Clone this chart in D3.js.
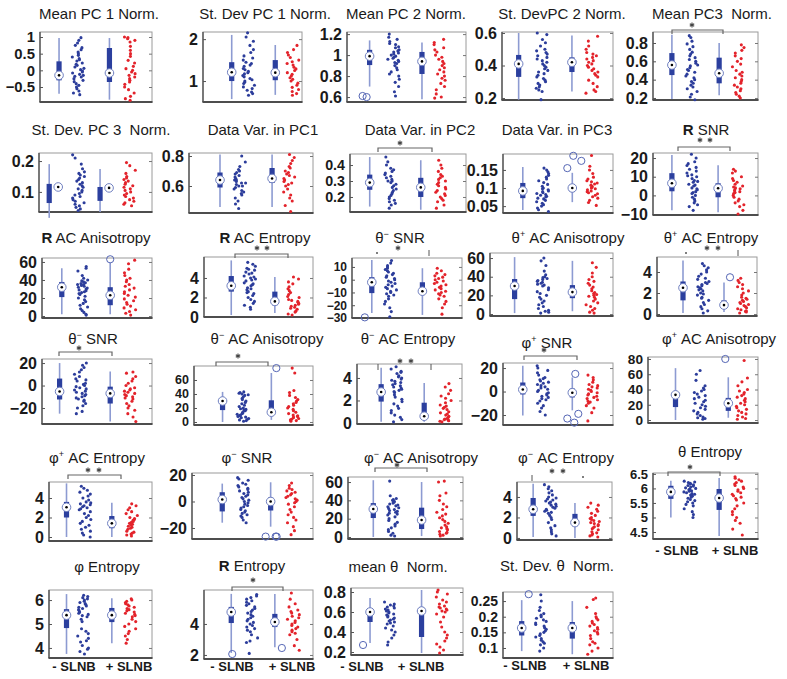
<!DOCTYPE html>
<html><head><meta charset="utf-8">
<script src="https://cdn.jsdelivr.net/npm/d3@7"></script>
<style>
body{margin:0;background:#fff}
svg{display:block}
text{font-family:"Liberation Sans",Arial,sans-serif;white-space:pre}
</style>
</head><body>
<svg id="c" width="787" height="679"></svg>
<script>
// ---------------- DATA ----------------
const titles = [
 "Mean PC 1 Norm.","St. Dev PC 1 Norm.","Mean PC 2 Norm.","St. DevPC 2 Norm.","Mean PC3  Norm.",
 "St. Dev. PC 3  Norm.","Data Var. in PC1","Data Var. in PC2","Data Var. in PC3","*R* SNR",
 "*R* AC Anisotropy","*R* AC Entropy","θ^− SNR","θ^+ AC Anisotropy","θ^+ AC Entropy",
 "θ^− SNR","θ^− AC Anisotropy","θ^− AC Entropy","φ^+ SNR","φ^+ AC Anisotropy",
 "φ^+ AC Entropy","φ^− SNR","φ^− AC Anisotropy","φ^− AC Entropy","θ Entropy",
 "φ Entropy","*R* Entropy","mean θ  Norm.","St. Dev. θ  Norm."
];
const groupLabels = ["- SLNB", "+ SLNB"];

const yTicks = [
 [-0.5,0,0.5,1],[1,2],[0.6,0.8,1,1.2],[0.2,0.4,0.6],[0.2,0.4,0.6,0.8],
 [0.1,0.2],[0.6,0.8],[0.2,0.3,0.4],[0.05,0.1,0.15],[-10,0,10,20],
 [0,20,40,60],[0,2,4],[-30,-20,-10,0,10],[0,20,40,60],[0,2,4],
 [-20,0,20],[0,20,40,60],[0,2,4],[-20,0,20],[0,20,40,60,80],
 [0,2,4],[-20,0,20],[0,20,40,60],[0,2,4],[4.5,5,5.5,6,6.5],
 [4,5,6],[2,4],[0.2,0.4,0.6,0.8],[0.1,0.15,0.2,0.25]
];

// box statistics: [lower whisker, q1, median, q3, upper whisker]
const statsNeg = [
 [-0.7,-0.3,-0.15,0.27,0.97],[0.57,1.0,1.21,1.45,2.1],[0.7,0.905,0.99,1.05,1.14],[0.19,0.33,0.41,0.465,0.6],[0.19,0.45,0.56,0.69,0.89],
 [0.016,0.064,0.116,0.126,0.19],[0.46,0.59,0.64,0.69,0.81],[0.14,0.245,0.29,0.34,0.45],[0.039,0.072,0.092,0.114,0.158],[-8,2.2,6.5,11.9,21.6],
 [2,21,32,37.8,53],[0.2,2.6,3.2,4.2,5.8],[-26,-10.5,-2,2,15.5],[1,16,30,37.5,61],[0.1,1.3,2.5,3.1,5.1],
 [-25,-12.4,-5.3,6.2,20],[0,17,30,34,43],[0.1,1.9,2.75,3.45,4.9],[-20.4,-2.5,1.7,7.7,22],[0,17,33,37,68],
 [0,2.0,3.05,3.6,5.5],[-16,-7.5,1.5,7,13.5],[0,20.7,30.5,37,62],[0.1,2.15,2.8,3.9,5.3],[5.0,5.64,5.88,6.09,6.26],
 [3.75,4.83,5.37,5.62,6.25],[2.13,4.06,4.77,5.1,5.94],[0.29,0.5,0.6,0.64,0.74],[0.09,0.14,0.164,0.186,0.253]
];
const statsPos = [
 [-0.88,-0.35,-0.08,0.67,0.97],[0.67,1.02,1.2,1.5,1.86],[0.58,0.82,0.94,1.03,1.12],[0.24,0.36,0.42,0.45,0.585],[0.23,0.36,0.47,0.64,0.8],
 [0.035,0.071,0.113,0.116,0.174],[0.46,0.62,0.65,0.72,0.81],[0.12,0.2,0.26,0.32,0.43],[0.061,0.089,0.1,0.111,0.142],[-9,-1,3.8,6.5,16.2],
 [2,12,23,32,59],[0.4,1.2,1.6,2.6,4.1],[-27.6,-12,-9,-2,9],[3,17,23.5,31,57],[0.2,0.6,0.85,1.3,3.0],
 [-32,-16,-7,-1,12.4],[3,10,14,31,70],[0.1,0.45,0.6,1.8,3.55],[-16,-5,-1,2.5,12],[3,12,22,29,56],
 [0,0.9,1.4,2.15,3.5],[-19,-6.8,0,3,14.5],[1,8.7,18.5,32,60],[0,1.15,1.5,2.35,3.4],[4.36,5.26,5.67,5.98,6.36],
 [4.2,5.08,5.37,5.67,6.08],[2.5,3.8,4.13,4.65,5.94],[0.19,0.35,0.61,0.65,0.82],[0.08,0.13,0.164,0.183,0.25]
];
const outNeg = [[],[],[0.61,0.6],[],[],[],[],[],[],[],[],[],[-29.5],[],[],[],[],[],[],[],[],[],[],[],[],[],[2.06],[0.27],[0.272]];
const outPos = [[],[],[],[],[],[],[],[],[0.155,0.189,0.175],[],[63],[],[],[],[3.5],[],[77],[],[15,-23,-19,-26.5],[80],[],[-26.5,-26.5,-26.5],[],[],[],[],[2.45],[],[]];

const dotsNeg = [
 [0.98,0.9,0.82,0.75,0.68,0.62,0.55,0.5,0.45,0.4,0.35,0.32,0.28,0.22,0.18,0.15,0.1,0.06,0.02,-0.02,-0.05,-0.08,-0.12,-0.15,-0.18,-0.2,-0.25,-0.3,-0.34,-0.4,-0.45,-0.5,-0.55,-0.62,-0.68,-0.73],
 [2.15,2.05,1.95,1.85,1.75,1.68,1.6,1.55,1.5,1.45,1.42,1.38,1.35,1.3,1.27,1.23,1.2,1.17,1.13,1.1,1.06,1.03,1.0,0.97,0.94,0.9,0.86,0.82,0.78,0.74,0.7,0.66],
 [1.2,1.17,1.15,1.13,1.11,1.1,1.08,1.07,1.05,1.04,1.03,1.02,1.01,1.0,0.99,0.98,0.97,0.96,0.95,0.94,0.93,0.92,0.9,0.88,0.86,0.84,0.82,0.8,0.77,0.74,0.7,0.65,0.61],
 [0.6,0.59,0.56,0.54,0.52,0.5,0.49,0.48,0.47,0.46,0.45,0.44,0.43,0.42,0.41,0.4,0.39,0.38,0.37,0.36,0.35,0.34,0.33,0.32,0.31,0.3,0.29,0.28,0.27,0.26,0.25,0.24,0.19],
 [0.88,0.86,0.82,0.79,0.76,0.73,0.7,0.68,0.66,0.64,0.62,0.6,0.58,0.56,0.55,0.53,0.51,0.5,0.48,0.46,0.44,0.42,0.4,0.38,0.36,0.34,0.32,0.3,0.27,0.24,0.21,0.18],
 [0.22,0.21,0.19,0.175,0.165,0.16,0.155,0.15,0.145,0.14,0.135,0.13,0.125,0.12,0.115,0.11,0.105,0.1,0.095,0.09,0.085,0.08,0.075,0.07,0.065,0.06,0.055,0.05,0.045,0.04],
 [0.8,0.76,0.73,0.71,0.7,0.69,0.68,0.67,0.66,0.65,0.64,0.64,0.63,0.62,0.62,0.61,0.6,0.6,0.59,0.58,0.57,0.56,0.55,0.54,0.52,0.5,0.48,0.45],
 [0.45,0.42,0.4,0.38,0.37,0.36,0.35,0.34,0.33,0.32,0.31,0.3,0.3,0.29,0.28,0.27,0.26,0.25,0.24,0.23,0.22,0.21,0.2,0.19,0.18,0.17,0.16,0.15,0.13],
 [0.155,0.15,0.145,0.14,0.135,0.13,0.125,0.12,0.115,0.11,0.105,0.1,0.098,0.095,0.092,0.09,0.087,0.085,0.082,0.08,0.077,0.075,0.072,0.07,0.066,0.062,0.058,0.054,0.05,0.045,0.04,0.035],
 [22,20,18,17,16,15,14,13,12,11,10.5,10,9,8,7.5,7,6,5.5,5,4,3.5,3,2,1.5,1,0,-1,-2,-3,-4,-5,-6,-8],
 [55,53,50,45,42,40,39,38,37,36,35,35,34,33,32,31,30,29,28,27,26,25,24,22,20,18,16,14,12,10,8,6,4,2,1],
 [5.6,5.4,5.2,5.0,4.9,4.8,4.6,4.5,4.4,4.2,4.1,4.0,3.9,3.8,3.7,3.5,3.4,3.3,3.2,3.0,2.9,2.8,2.6,2.5,2.4,2.2,2.0,1.8,1.6,1.4,1.2,1.0,0.8],
 [15,13,11,10,9,8,7,6,5,4,3,2,1,0,-1,-2,-3,-4,-5,-6,-7,-8,-9,-10,-11,-12,-13,-15,-17,-19,-22,-25,-29],
 [60,57,52,46,42,40,39,38,37,36,35,34,33,32,31,30,28,26,24,22,20,18,16,14,12,10,8,6,4,3,2,1],
 [4.8,4.6,4.4,4.2,4.0,3.8,3.6,3.4,3.3,3.1,3.0,2.9,2.8,2.7,2.6,2.5,2.4,2.3,2.2,2.0,1.9,1.8,1.6,1.5,1.3,1.1,0.9,0.7,0.5,0.3,0.1],
 [20,18,16,14,12,10,8,6,5,4,2,1,0,-1,-2,-3,-4,-5,-6,-7,-8,-9,-10,-11,-12,-13,-14,-16,-18,-20,-23,-25],
 [43,42,41,40,39,38,36,34,32,30,28,26,24,22,20,19,18,17,16,14,13,12,11,10,9,8,7,6,5,4,3,2,1],
 [5.0,4.8,4.6,4.5,4.4,4.2,4.1,4.0,3.9,3.8,3.7,3.6,3.5,3.4,3.3,3.2,3.1,3.0,2.9,2.8,2.7,2.5,2.3,2.1,1.9,1.7,1.5,1.3,1.1,0.9,0.7,0.5,0.3,0.1],
 [22,20,18,16,14,12,11,10,9,8,7,6,5,4,3,2,1,0,-1,-2,-3,-4,-5,-6,-7,-8,-10,-12,-14,-17,-20],
 [65,60,52,45,42,40,38,36,34,32,30,28,26,24,22,20,18,16,14,12,10,8,6,4,3,2,1],
 [5.2,5.0,4.8,4.6,4.4,4.2,4.0,3.8,3.6,3.5,3.4,3.3,3.2,3.1,3.0,2.9,2.8,2.6,2.4,2.2,2.0,1.8,1.6,1.4,1.2,1.0,0.8,0.6,0.4,0.2,0.0],
 [18,17,16,14,13,12,11,10,9,8,7,6,5,4,3,2,1,0,-1,-2,-3,-4,-5,-6,-7,-8,-9,-10,-11,-12,-14,-16],
 [61,45,42,41,40,39,38,37,36,35,34,33,32,31,30,29,28,27,26,25,24,22,20,18,16,14,12,10,8,6,4,2,1],
 [5.2,5.0,4.8,4.6,4.4,4.2,4.0,3.9,3.8,3.7,3.6,3.5,3.4,3.3,3.2,3.1,3.0,2.9,2.8,2.7,2.6,2.5,2.4,2.2,2.0,1.8,1.5,1.2,1.0,0.8,0.6,0.4,0.2],
 [6.25,6.22,6.2,6.18,6.15,6.12,6.1,6.08,6.05,6.02,6.0,5.98,5.95,5.92,5.9,5.88,5.85,5.82,5.8,5.77,5.74,5.7,5.66,5.62,5.58,5.54,5.5,5.45,5.4,5.3,5.2,5.1,5.0],
 [6.2,6.15,6.1,6.05,6.0,5.95,5.9,5.85,5.8,5.75,5.7,5.65,5.6,5.55,5.5,5.45,5.4,5.35,5.3,5.2,5.1,4.8,4.7,4.6,4.5,4.4,4.3,4.25,4.1,4.0,3.95,3.85,3.75],
 [5.9,5.8,5.7,5.6,5.5,5.4,5.3,5.2,5.1,5.0,4.9,4.8,4.7,4.6,4.5,4.4,4.3,4.2,4.1,4.0,3.9,3.8,3.7,3.6,3.5,3.3,3.1,2.9,2.8,2.1],
 [0.7,0.68,0.67,0.66,0.65,0.64,0.63,0.62,0.61,0.6,0.59,0.58,0.57,0.56,0.55,0.54,0.53,0.52,0.51,0.5,0.49,0.48,0.46,0.44,0.42,0.4,0.37,0.34,0.3,0.27],
 [0.27,0.25,0.23,0.22,0.21,0.205,0.2,0.195,0.19,0.185,0.18,0.175,0.17,0.165,0.16,0.155,0.15,0.145,0.14,0.135,0.13,0.125,0.12,0.115,0.11,0.1,0.09]
];
const dotsPos = [
 [1.0,0.98,0.95,0.9,0.85,0.72,0.6,0.5,0.42,0.3,0.22,0.12,0.05,0.0,-0.05,-0.1,-0.15,-0.2,-0.25,-0.3,-0.35,-0.42,-0.5,-0.58,-0.68,-0.78,-0.85,-0.9],
 [1.85,1.75,1.68,1.62,1.56,1.5,1.46,1.42,1.38,1.33,1.29,1.25,1.2,1.16,1.12,1.08,1.04,1.0,0.95,0.9,0.85,0.8,0.75,0.7,0.66],
 [1.15,1.12,1.1,1.07,1.05,1.03,1.0,0.98,0.96,0.94,0.92,0.9,0.88,0.86,0.84,0.82,0.8,0.78,0.76,0.73,0.7,0.67,0.63,0.6,0.59],
 [0.58,0.55,0.52,0.5,0.48,0.47,0.46,0.45,0.44,0.43,0.42,0.41,0.4,0.39,0.38,0.37,0.36,0.35,0.34,0.33,0.31,0.29,0.27,0.25,0.24,0.23],
 [0.78,0.75,0.72,0.69,0.66,0.63,0.6,0.57,0.54,0.5,0.48,0.46,0.44,0.42,0.4,0.38,0.36,0.34,0.32,0.3,0.28,0.26,0.24,0.22,0.2],
 [0.195,0.185,0.17,0.16,0.15,0.145,0.14,0.135,0.13,0.125,0.12,0.115,0.11,0.105,0.1,0.095,0.09,0.085,0.08,0.075,0.07,0.065,0.06,0.055],
 [0.81,0.79,0.77,0.75,0.73,0.72,0.7,0.69,0.68,0.67,0.66,0.65,0.64,0.63,0.62,0.61,0.6,0.58,0.56,0.54,0.52,0.5,0.47,0.43],
 [0.43,0.4,0.38,0.36,0.34,0.33,0.32,0.31,0.3,0.29,0.28,0.27,0.26,0.25,0.24,0.23,0.22,0.21,0.2,0.19,0.18,0.17,0.15,0.13],
 [0.19,0.16,0.15,0.14,0.13,0.125,0.12,0.117,0.114,0.111,0.108,0.105,0.102,0.1,0.098,0.095,0.092,0.09,0.087,0.084,0.08,0.076,0.072,0.066,0.06,0.052],
 [14,13,12,10,9,8,7,6,5,4.5,4,3.5,3,2.5,2,1.5,1,0,-1,-2,-3,-4,-5,-6,-8,-10],
 [62,58,52,48,45,42,40,38,35,33,31,29,27,25,23,21,19,17,15,13,11,9,7,5,3,1],
 [4.1,3.9,3.6,3.4,3.1,2.9,2.7,2.5,2.3,2.1,2.0,1.8,1.7,1.6,1.5,1.4,1.3,1.2,1.1,1.0,0.9,0.8,0.6,0.5,0.3,0.2],
 [9,7,5,4,3,2,1,0,-1,-2,-3,-4,-5,-6,-7,-8,-9,-10,-11,-12,-13,-15,-17,-19,-22,-27],
 [55,50,44,40,37,35,33,31,29,27,25,23,22,21,20,19,18,16,14,12,10,8,6,4,2,1],
 [3.4,3.2,3.0,2.8,2.6,2.4,2.2,2.0,1.8,1.6,1.5,1.4,1.3,1.2,1.1,1.0,0.9,0.8,0.7,0.6,0.5,0.4,0.3,0.25,0.2,0.1],
 [12,11,8,6,4,2,0,-2,-3,-4,-5,-6,-7,-8,-9,-10,-11,-12,-14,-16,-18,-20,-22,-25,-28,-32],
 [77,70,45,42,38,35,32,30,28,26,24,22,20,18,16,14,12,10,9,8,7,6,5,4,3,2,1],
 [3.5,3.2,2.9,2.6,2.4,2.2,2.0,1.8,1.6,1.5,1.4,1.3,1.2,1.0,0.9,0.8,0.7,0.6,0.5,0.4,0.35,0.3,0.25,0.2,0.15,0.1],
 [14,12,10,8,6,5,4,3,2,1,0,-1,-2,-3,-4,-5,-6,-7,-8,-9,-10,-12,-14,-18,-25],
 [78,55,50,45,40,38,36,34,32,30,28,26,24,22,20,18,16,14,12,10,8,6,4,2,1],
 [3.4,3.2,3.0,2.8,2.6,2.4,2.2,2.0,1.9,1.8,1.7,1.6,1.5,1.4,1.3,1.2,1.1,1.0,0.9,0.8,0.6,0.5,0.4,0.3,0.2,0.1],
 [14,12,10,9,8,7,6,5,4,3,2,1,0,-1,-2,-4,-6,-8,-10,-12,-14,-16,-19,-22,-25],
 [61,60,48,45,40,36,33,30,27,25,23,21,19,17,15,13,11,10,9,8,6,5,4,3,2,1],
 [3.4,3.2,3.0,2.8,2.6,2.4,2.2,2.0,1.9,1.8,1.7,1.6,1.5,1.4,1.3,1.2,1.1,1.0,0.9,0.8,0.6,0.5,0.4,0.3,0.2,0.1],
 [6.4,6.35,6.3,6.25,6.2,6.15,6.1,6.05,6.0,5.95,5.9,5.85,5.8,5.75,5.7,5.65,5.6,5.5,5.4,5.3,5.2,5.1,5.0,4.9,4.8,4.6,4.4],
 [6.05,6.0,5.95,5.9,5.85,5.8,5.75,5.7,5.65,5.6,5.55,5.5,5.45,5.4,5.35,5.3,5.2,5.1,5.0,4.9,4.8,4.7,4.6,4.5,4.35,4.2],
 [6.0,5.6,5.3,5.1,4.9,4.8,4.7,4.6,4.5,4.4,4.3,4.2,4.1,4.0,3.9,3.8,3.7,3.6,3.5,3.4,3.3,3.0,2.6,2.3],
 [0.82,0.8,0.78,0.75,0.72,0.7,0.68,0.66,0.65,0.64,0.63,0.62,0.61,0.6,0.58,0.55,0.5,0.45,0.4,0.37,0.34,0.31,0.28,0.25,0.22,0.19],
 [0.26,0.255,0.23,0.21,0.2,0.195,0.19,0.185,0.18,0.175,0.17,0.165,0.16,0.155,0.15,0.145,0.14,0.13,0.12,0.115,0.11,0.1,0.09,0.08]
];

// ---------------- LAYOUT ----------------
const boxes = [
 [40,32,152,102],[203,32,302,102],[347,32,466,102],[502,32,613,100],[653,32,758,100],
 [39,153,152,212],[189,153,313,213],[350,154,466,212],[503,154,613,213],[653,153,758,215],
 [42,258,152,318],[204,257,313,317],[352,258,462,318],[490,253,613,316],[657,257,757,316],
 [42,359,152,424],[194,366,313,425],[357,364,462,424],[503,363,613,425],[648,357,758,423],
 [49,482,152,541],[192,473,313,539],[348,477,463,539],[517,482,612,540],[653,473,758,539],
 [49,590,152,658],[204,590,313,659],[351,588,463,655],[503,592,613,658]
];
const domains = [
 [-0.95,1.15],[0.5,2.17],[0.553,1.22],[0.188,0.606],[0.178,0.92],
 [0.035,0.226],[0.42,0.82],[0.106,0.469],[0.031,0.194],[-10.5,22.7],
 [-2.2,64.4],[0,6.15],[-30,17],[-2.1,65.4],[-0.19,5.43],
 [-34.2,23.6],[-4.3,80],[-0.09,5.24],[-28.5,24.3],[-3.9,82.6],
 [-0.41,5.64],[-28.3,21.5],[-2.2,65.5],[-0.2,5.46],[4.26,6.53],
 [3.58,6.42],[1.74,6.19],[0.17,0.84],[0.068,0.279]
];
const posFrac = [
 [0.17,0.34,0.62,0.80],[0.29,0.46,0.73,0.91],[0.19,0.39,0.63,0.78],[0.15,0.36,0.63,0.81],[0.18,0.37,0.63,0.81],
 [0.17,0.35,0.62,0.80],[0.25,0.41,0.67,0.81],[0.17,0.35,0.61,0.78],[0.18,0.36,0.63,0.81],[0.18,0.37,0.62,0.81],
 [0.18,0.37,0.62,0.80],[0.25,0.42,0.65,0.82],[0.18,0.35,0.64,0.80],[0.20,0.43,0.67,0.83],[0.26,0.46,0.67,0.86],
 [0.16,0.35,0.62,0.80],[0.24,0.41,0.65,0.83],[0.23,0.38,0.64,0.84],[0.18,0.36,0.63,0.81],[0.25,0.47,0.73,0.85],
 [0.17,0.35,0.61,0.80],[0.25,0.42,0.65,0.82],[0.22,0.39,0.64,0.82],[0.17,0.35,0.61,0.81],[0.17,0.35,0.63,0.81],
 [0.17,0.33,0.61,0.79],[0.25,0.44,0.65,0.82],[0.17,0.35,0.63,0.81],[0.17,0.35,0.63,0.81]
];
const boxShift = {5:-9};
const outNegDx = {2:[-7,-3],12:[-7],26:[1],27:[-7],28:[7]};
const outPosDx = {8:[-5,1,9],10:[0],14:[6],16:[5],18:[3,-5,6,2],19:[-3],21:[-5,5,6],26:[7]};
const titlePos = [
 [99,19],[265,19],[406,19],[562,19],[712,19],
 [101,135],[263,135],[420,135],[557,135],[706,135],
 [96,243],[265,243],[400,243],[568,243],[711,243],
 [93,344],[267,344],[408,344],[547,348],[719,344],
 [97,463],[247,463],[421,463],[566,463],[710,457],
 [107,572],[252,571],[398,572],[557,571]
];
const brackets = {4:[672,723,30],7:[378,432,148],9:[678,730,147],11:[235,288,254],15:[59,112,352],16:[216,268,362],18:[524,577,356],20:[68,121,475],22:[375,427,468],24:[668,720,472],26:[232,283,587]};
const stars = [[692,25],[400,143],[700,140],[710,140],[257,248],[267,248],[398,248],[707,248],[718,248],[79,348],[238,356],[400,361],[411,361],[544,350],[88,470],[99,470],[397,465],[552,471],[563,471],[690,467],[253,580]];
const tickMarks = [[377,253,0],[429,253,1],[686,253,0],[738,253,1],[378,367,1],[431,367,1],[532,478,1],[583,477,0]];
const xLabelPos = {24:[677,735,555],25:[74,129,671],26:[232,292,671],27:[362,421,671],28:[525,586,670]};

// ---------------- DRAW ----------------
const svg = d3.select("#c");
const BLUE = "#2c3d9b", RED = "#e3232b", BOX = "#2b3f9e", WHISK = "#8d9bd2";
const fmt = d3.format("~g");
// deterministic horizontal jitter for the strip plots (position only)
const jit = (j, i) => { const s = Math.sin((j + 1) * 12.9898 + (i + 1) * 78.233) * 43758.5453; return s - Math.floor(s) - 0.5; };

function drawTitle(txt, cx, cy) {
  const t = svg.append("text").attr("x", cx).attr("y", cy).attr("text-anchor", "middle")
    .attr("font-size", 15).attr("fill", "#1a1a1a");
  const parts = txt.split(/(\^.|\*[^*]+\*)/).filter(s => s.length);
  let raised = false;
  parts.forEach(p => {
    if (p[0] === "^") {
      t.append("tspan").attr("font-size", 9).attr("dy", -6).text(p[1]);
      raised = true;
    } else {
      const s = t.append("tspan");
      if (p[0] === "*") s.attr("font-weight", "bold").text(p.slice(1, -1)); else s.text(p);
      if (raised) { s.attr("dy", 6); raised = false; }
    }
  });
}

boxes.forEach((bx, i) => {
  const [l, t, r, b] = bx;
  const y = d3.scaleLinear().domain(domains[i]).range([b, t]);
  const x = d3.scaleLinear().domain([0, 1]).range([l, r]);
  const g = svg.append("g");

  g.append("rect").attr("x", l).attr("y", t).attr("width", r - l).attr("height", b - t)
    .attr("fill", "none").attr("stroke", "#9a9a9a").attr("stroke-width", 1);

  const tv = yTicks[i];
  const spacing = Math.abs(y(tv[0]) - y(tv[1]));
  const fs = Math.min(16, Math.max(12, spacing / 1.12));
  const ax = g.append("g").attr("transform", `translate(${l},0)`)
    .call(d3.axisLeft(y).tickValues(tv).tickFormat(fmt).tickSize(-3).tickPadding(5));
  ax.select(".domain").remove();
  ax.selectAll("line").attr("stroke", "#555");
  ax.selectAll("text").attr("font-size", fs).attr("font-weight", "bold").attr("fill", "#1a1a1a")
    .attr("font-family", '"Liberation Sans",Arial,sans-serif');
  const axr = g.append("g").attr("transform", `translate(${r},0)`)
    .call(d3.axisRight(y).tickValues(tv).tickFormat("").tickSize(-3));
  axr.select(".domain").remove();
  axr.selectAll("line").attr("stroke", "#777");

  g.append("line").attr("x1", l).attr("x2", l).attr("y1", t).attr("y2", b).attr("stroke", "#555").attr("stroke-width", 1.4);
  g.append("line").attr("x1", l - 0.5).attr("x2", r + 0.5).attr("y1", b).attr("y2", b).attr("stroke", "#4d4d4d").attr("stroke-width", 2.2);

  const pf = posFrac[i];
  const groups = [
    {st: statsNeg[i], out: outNeg[i], odx: outNegDx[i] || [], dots: dotsNeg[i], col: BLUE, bp: pf[0], dp: pf[1], k: 0},
    {st: statsPos[i], out: outPos[i], odx: outPosDx[i] || [], dots: dotsPos[i], col: RED, bp: pf[2], dp: pf[3], k: 1}
  ];
  groups.forEach(G => {
    const cx = x(G.bp);
    const bxX = cx + (boxShift[i] || 0);
    const [lo, q1, md, q3, hi] = G.st;
    g.append("line").attr("x1", bxX).attr("x2", bxX).attr("y1", y(lo)).attr("y2", y(hi))
      .attr("stroke", WHISK).attr("stroke-width", 1.6);
    g.append("rect").attr("x", bxX - 2.6).attr("width", 5.2).attr("y", y(q3)).attr("height", y(q1) - y(q3))
      .attr("fill", BOX);
    g.append("circle").attr("cx", cx).attr("cy", y(md)).attr("r", 4.3)
      .attr("fill", "#fff").attr("stroke", "#6f7fc0").attr("stroke-width", 1);
    g.append("circle").attr("cx", cx).attr("cy", y(md)).attr("r", 1.3).attr("fill", "#000");
    G.out.forEach((v, k) => {
      g.append("circle").attr("cx", cx + (G.odx[k] || 0)).attr("cy", y(v)).attr("r", 3.6)
        .attr("fill", "none").attr("stroke", "#5566b5").attr("stroke-width", 1);
    });
    const dx = x(G.dp);
    g.selectAll(null).data(G.dots).enter().append("circle")
      .attr("cx", (v, j) => dx + jit(j, i * 2 + G.k) * 12)
      .attr("cy", v => y(v)).attr("r", 1.55).attr("fill", G.col);
  });

  drawTitle(titles[i], titlePos[i][0], titlePos[i][1]);

  if (brackets[i]) {
    const [x1, x2, yy] = brackets[i];
    svg.append("path").attr("d", `M${x1},${yy + 4}V${yy}H${x2}V${yy + 4}`)
      .attr("fill", "none").attr("stroke", "#666").attr("stroke-width", 1.2);
  }
  if (xLabelPos[i]) {
    const [a, c, yy] = xLabelPos[i];
    [a, c].forEach((xx, k) => svg.append("text").attr("x", xx).attr("y", yy).attr("text-anchor", "middle")
      .attr("font-size", 13).attr("font-weight", "bold").attr("fill", "#1a1a1a").text(groupLabels[k]));
  }
});

const starSym = d3.symbol(d3.symbolAsterisk, 18);
stars.forEach(([sx, sy]) => svg.append("path").attr("d", starSym())
  .attr("transform", `translate(${sx},${sy})`).attr("fill", "none").attr("stroke", "#444").attr("stroke-width", 1.1));
tickMarks.forEach(([mx, my, kind]) => {
  if (kind) svg.append("line").attr("x1", mx).attr("x2", mx).attr("y1", my - 3).attr("y2", my + 3).attr("stroke", "#555").attr("stroke-width", 1);
  else svg.append("circle").attr("cx", mx).attr("cy", my).attr("r", 1).attr("fill", "#555");
});
</script>
</body></html>
